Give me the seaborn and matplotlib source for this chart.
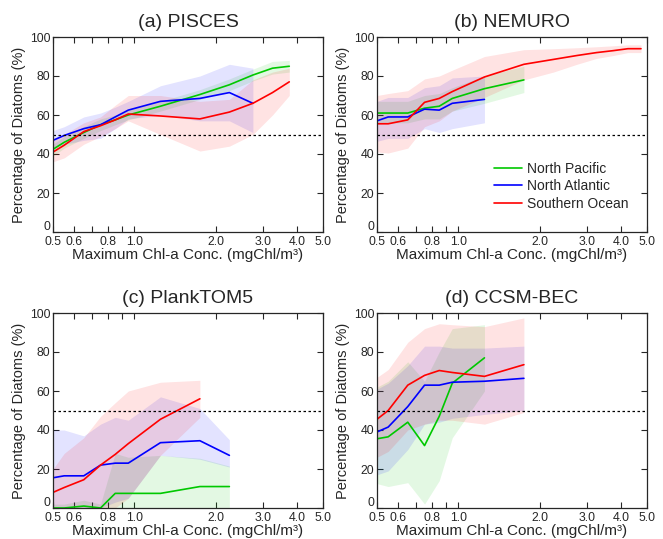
import numpy as np
import pandas as pd
import seaborn as sns
import matplotlib.pyplot as plt
from matplotlib.ticker import FixedLocator, FixedFormatter, NullFormatter
from matplotlib.transforms import ScaledTranslation

# bin centres of maximum Chl-a (mgChl/m3)
chl = [0.5, 0.55, 0.65, 0.75, 0.85, 0.95, 1.25, 1.75, 2.25, 2.75, 3.25, 3.75, 4.25, 4.75]

# ---- (a) PISCES
a_np = [42.4, 46, 51, 55, 57.5, 60, 64.5, 70.5, 75.5, 80.5, 84, 85]
a_np_lo = [39, 43, 48, 52, 55, 57.5, 62, 68, 72.5, 77.5, 81, 82]
a_np_hi = [45, 49, 54, 58, 60, 62.5, 67, 73, 78.5, 83.5, 87.5, 88]
a_na = [47, 49.5, 53, 55, 59, 62.5, 67, 68.5, 71.5, 66]
a_na_lo = [43, 45, 47, 48, 53, 58, 60, 57, 57, 51]
a_na_hi = [52, 54, 59, 61, 64, 67, 75, 80, 86, 84]
a_so = [41, 44.5, 51.5, 54.5, 57.5, 60.5, 59.5, 58, 61.5, 66, 71.5, 77]
a_so_lo = [36, 38, 45, 49, 53, 57, 50, 41.5, 44, 50, 60, 70]
a_so_hi = [48, 50, 56, 59, 65, 70, 70, 67, 68, 78, 82, 84]

# ---- (b) NEMURO
b_np = [61, 61, 61, 63.5, 64.5, 68.5, 73.5, 78]
b_np_lo = [56, 56, 56, 58, 58, 62, 66, 71.5]
b_np_hi = [67, 67, 67, 70, 71, 74, 80, 85]
b_na = [57, 59, 59, 63, 62.5, 66, 68]
b_na_lo = [46.5, 48, 48, 53, 51, 53, 56]
b_na_hi = [67, 69, 69, 74, 75, 79, 80]
b_so = [55.5, 55.5, 57.5, 66.5, 68.5, 72, 79.5, 86, 88.5, 90.5, 92, 93, 94, 94]
b_so_lo = [41, 40.5, 43, 54, 57, 62, 69, 78, 82, 86, 89, 90.5, 92, 92]
b_so_hi = [70, 71, 72.5, 78.5, 80, 83, 90, 93.5, 94, 94.5, 95, 95.5, 96, 96]

# ---- (c) PlankTOM5
c_np = [0, 0, 1, 0, 7.5, 7.5, 7.5, 11, 11]
c_np_lo = [0, 0, 0, 0, 0, 0, 0, 0, 0]
c_np_hi = [2, 2, 4, 2, 28, 26, 27, 25.5, 21.5]
c_na = [15.5, 16.5, 16.5, 22, 23, 23, 33.5, 34.5, 27]
c_na_lo = [0, 0, 0, 0, 3, 5, 27, 25, 21]
c_na_hi = [40, 40, 37, 43, 46.5, 45, 57, 51, 35]
c_so = [8, 10.5, 14.5, 22, 27.5, 33, 45.5, 56]
c_so_lo = [0, 0, 0, 0, 0, 5, 27, 46.5]
c_so_hi = [20, 28, 36, 47, 54, 60, 64.5, 65.5]

# ---- (d) CCSM-BEC
d_np = [35.5, 36.5, 44, 32, 47, 64, 77]
d_np_lo = [12.5, 11, 13, 2, 14, 36, 60]
d_np_hi = [62, 65, 75, 65, 80, 92, 94]
d_na = [39, 41.5, 52, 63, 63, 64.5, 65, 66.5]
d_na_lo = [17, 19, 30, 43, 44, 46, 48, 50]
d_na_hi = [61, 64, 73, 83, 83, 82, 82, 83]
d_so = [45.5, 50, 63, 68, 70.5, 69.5, 67.5, 73.5]
d_so_lo = [26, 29, 40, 43, 45, 45, 43, 49]
d_so_hi = [67, 71, 85, 92, 94.5, 94, 93, 97.5]

regions = ["North Pacific", "North Atlantic", "Southern Ocean"]
colors = {"North Pacific": "#00c800", "North Atlantic": "#0000ff", "Southern Ocean": "#ff0000"}

panels = [
    ("(a) PISCES", [(a_np, a_np_lo, a_np_hi), (a_na, a_na_lo, a_na_hi), (a_so, a_so_lo, a_so_hi)]),
    ("(b) NEMURO", [(b_np, b_np_lo, b_np_hi), (b_na, b_na_lo, b_na_hi), (b_so, b_so_lo, b_so_hi)]),
    ("(c) PlankTOM5", [(c_np, c_np_lo, c_np_hi), (c_na, c_na_lo, c_na_hi), (c_so, c_so_lo, c_so_hi)]),
    ("(d) CCSM-BEC", [(d_np, d_np_lo, d_np_hi), (d_na, d_na_lo, d_na_hi), (d_so, d_so_lo, d_so_hi)]),
]

xticks = [0.5, 0.6, 0.8, 1.0, 2.0, 3.0, 4.0, 5.0]
xticklabels = ["0.5", "0.6", "0.8", "1.0", "2.0", "3.0", "4.0", "5.0"]

sns.set_style("ticks")
plt.rcParams["font.family"] = ["Liberation Sans", "DejaVu Sans"]

fig = plt.figure(figsize=(6.63, 5.39), dpi=100)
W, H = 663, 539
boxes = [(53, 37), (377, 37), (53, 313), (377, 313)]

for (title, series), (left, top) in zip(panels, boxes):
    ax = fig.add_axes([left / W, 1 - (top + 195) / H, 270 / W, 195 / H])
    rows = []
    for reg, (mid, lo, hi) in zip(regions, series):
        n = len(mid)
        x = chl[:n]
        ax.fill_between(x, lo, hi, color=colors[reg], alpha=0.11, lw=0)
        for xi, yi in zip(x, mid):
            rows.append({"chl": xi, "diatoms": yi, "region": reg})
    df = pd.DataFrame(rows)
    sns.lineplot(data=df, x="chl", y="diatoms", hue="region", hue_order=regions,
                 palette=colors, lw=1.2, ax=ax, legend=False)
    ax.axhline(50, color="black", ls=(0, (2, 2)), lw=0.9)
    ax.set_xscale("log")
    ax.set_xlim(0.5, 5.0)
    ax.set_ylim(0, 100)
    ax.xaxis.set_major_locator(FixedLocator(xticks))
    ax.xaxis.set_major_formatter(FixedFormatter(xticklabels))
    ax.xaxis.set_minor_locator(FixedLocator([0.7, 0.9]))
    ax.xaxis.set_minor_formatter(NullFormatter())
    ax.set_yticks([0, 20, 40, 60, 80, 100])
    ax.tick_params(which="both", direction="in", top=True, right=True, length=4,
                   width=0.8, labelsize=8.8)
    ax.tick_params(axis="x", pad=3)
    ax.tick_params(axis="y", pad=2)
    # lift the "0" label like the original
    ylabs = ax.get_yticklabels()
    ylabs[0].set_transform(ylabs[0].get_transform() + ScaledTranslation(0, 5 / 72, fig.dpi_scale_trans))
    ax.set_xlabel("Maximum Chl-a Conc. (mgChl/m³)", fontsize=11, labelpad=0)
    ax.set_ylabel("Percentage of Diatoms (%)", fontsize=10.5, labelpad=3)
    ax.set_title(title, fontsize=14, pad=7)
    for s in ax.spines.values():
        s.set_linewidth(0.9)

    if title.startswith("(b)"):
        handles = [plt.Line2D([], [], color=colors[r], lw=1.2) for r in regions]
        ax.legend(handles, regions, loc="lower right", frameon=False, fontsize=10,
                  handlelength=2.0, handletextpad=0.4, labelspacing=0.25,
                  bbox_to_anchor=(0.978, 0.045))

fig.savefig("out.png", dpi=100)
